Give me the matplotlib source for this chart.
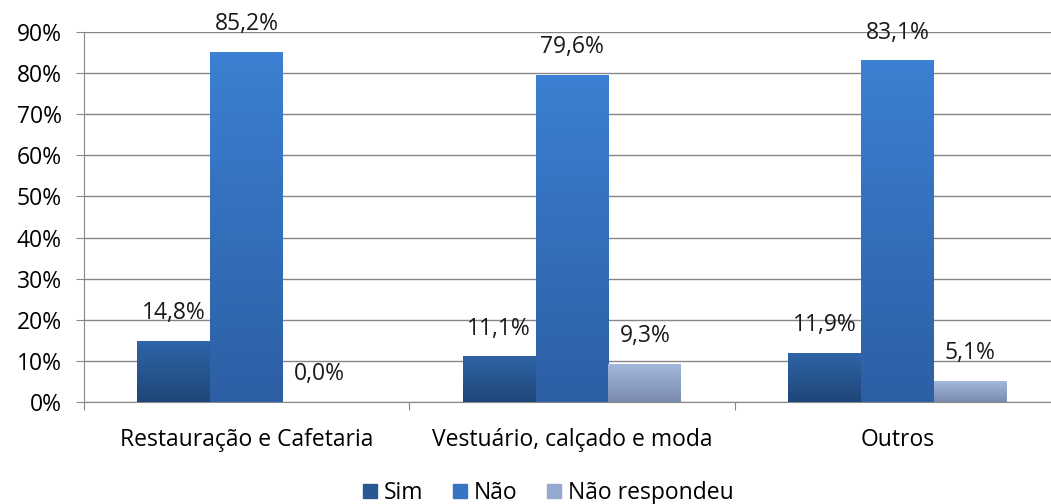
import numpy as np
import matplotlib.pyplot as plt
from matplotlib.colors import LinearSegmentedColormap
from matplotlib.patches import Patch

plt.rcParams['font.family'] = ['Open Sans', 'DejaVu Sans']

categories = ['Restauração e Cafetaria', 'Vestuário, calçado e moda', 'Outros']
series = ['Sim', 'Não', 'Não respondeu']
sim = [14.8, 11.1, 11.9]
nao = [85.2, 79.6, 83.1]
nao_resp = [0.0, 9.3, 5.1]
values = [sim, nao, nao_resp]
labels = [['14,8%', '11,1%', '11,9%'], ['85,2%', '79,6%', '83,1%'], ['0,0%', '9,3%', '5,1%']]
yticks = [0, 10, 20, 30, 40, 50, 60, 70, 80, 90]

# gradient (top colour, bottom colour) per series
grad = [('#2F64A8', '#1F4678'), ('#3B80D2', '#2D5FA4'), ('#A3B8DE', '#7A8BAE')]
legend_cols = ['#2A5892', '#3775C4', '#94A8D0']

fs = 16.5
fig = plt.figure(figsize=(10.51, 5.04), dpi=100)
ax = fig.add_axes([84/1051, 1 - 402/504, (1060-84)/1051, (402-32)/504])

w = 0.224
x = np.arange(len(categories))
for i, vals in enumerate(values):
    pos = x + (i - 1) * w
    bars = ax.bar(pos, vals, width=w, color='none', edgecolor='none', zorder=3)
    cmap = LinearSegmentedColormap.from_list('g%d' % i, [grad[i][1], grad[i][0]])
    for b, v in zip(bars, vals):
        if v > 0:
            im = ax.imshow(np.linspace(0, 1, 100).reshape(-1, 1), cmap=cmap, aspect='auto',
                           origin='lower', extent=[b.get_x(), b.get_x() + w, 0, v], zorder=3)
            im.set_clip_path(b)
    for p, v, t in zip(pos, vals, labels[i]):
        ax.annotate(t, (p, v), xytext=(0, 20), textcoords='offset points',
                    ha='center', va='center', fontsize=fs, color='#1a1a1a', zorder=4)

ax.set_xlim(-0.5, 2.5)
ax.set_ylim(0, 90)
ax.set_yticks(yticks)
ax.set_yticklabels(['%d%%' % t for t in yticks], fontsize=fs)
ax.set_xticks([-0.5, 0.5, 1.5, 2.5])
ax.set_xticklabels([])
ax.set_xticks(x, minor=True)
ax.set_xticklabels(categories, minor=True, fontsize=fs)
ax.tick_params(axis='x', which='minor', length=0, pad=19)
ax.tick_params(axis='x', which='major', length=6, color='#868686')
ax.tick_params(axis='y', length=6, color='#868686', pad=10)
ax.grid(axis='y', color='#868686', lw=1, zorder=0)
for s in ['top', 'right']:
    ax.spines[s].set_visible(False)
for s in ['left', 'bottom']:
    ax.spines[s].set_color('#868686')
ax.set_axisbelow(True)

handles = [Patch(color=c) for c in legend_cols]
fig.legend(handles, series, loc='center', bbox_to_anchor=(0.522, 0.022), ncol=3,
           frameon=False, fontsize=fs, handlelength=0.6, handleheight=0.6,
           handletextpad=0.3, columnspacing=1.3)

fig.savefig('out.png', dpi=100)
